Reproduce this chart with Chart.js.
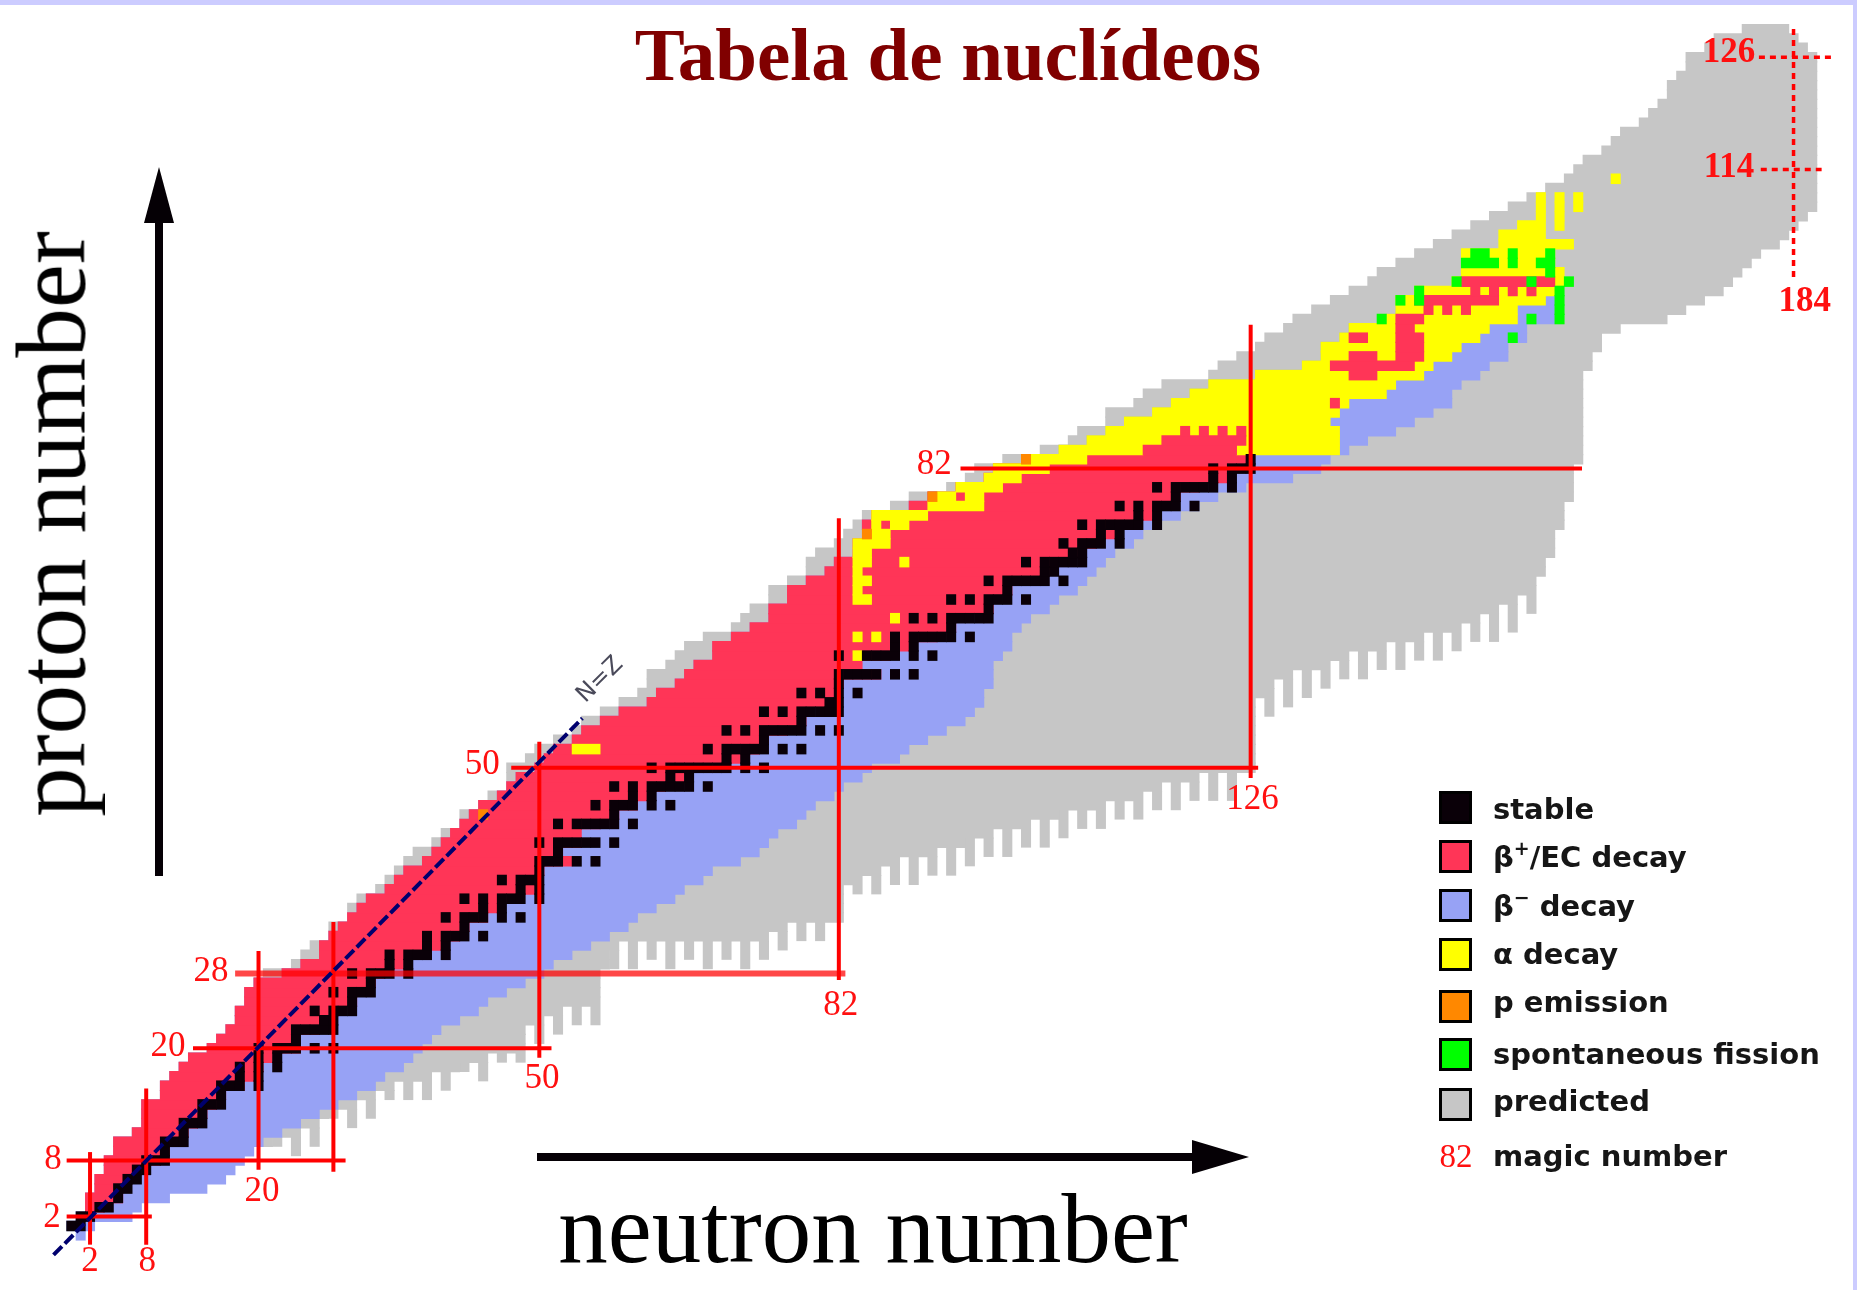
<!DOCTYPE html>
<html>
<head>
<meta charset="utf-8">
<title>Tabela de nuclídeos</title>
<script src="https://cdn.jsdelivr.net/npm/chart.js@4/dist/chart.umd.min.js"></script>
<style>
  html, body { margin: 0; padding: 0; background: #fff; }
  #wrap { position: relative; width: 1857px; height: 1290px; overflow: hidden; background: #fff; }
  #chart { position: absolute; left: 0; top: 0; }
  .frame-top { position: absolute; left: 0; top: 0; width: 1857px; height: 5px; background: #ccccff; }
  .frame-right { position: absolute; right: 0; top: 0; width: 4px; height: 1290px; background: #ccccff; }
  #title { position: absolute; left: 948px; top: 17px; transform: translateX(-50%); white-space: nowrap;
    font: bold 75px "Liberation Serif", serif; line-height: 1; color: #800000; }
  .axis { position: absolute; white-space: nowrap; font: 99px "Liberation Serif", serif; line-height: 1; color: #000; }
  #ylab { left: 51px; top: 524px; transform: translate(-50%, -50%) rotate(-90deg); }
  #xlab { left: 873px; top: 1179px; transform: translateX(-50%); }
  .lg-box { position: absolute; left: 1439px; width: 33px; height: 33px; box-sizing: border-box; border: 3px solid #000; }
  .lg-txt { position: absolute; left: 1493px; white-space: nowrap; font: bold 29px "DejaVu Sans", sans-serif; line-height: 1; color: #161616; }
  .lg-txt sup { font-size: 19px; vertical-align: 12px; line-height: 0; }
  .lg-magic { position: absolute; left: 1456px; transform: translateX(-50%); font: 33px "Liberation Serif", serif; line-height: 1; color: #ff1010; }
</style>
</head>
<body>
<div id="wrap">
  <canvas id="chart" width="1857" height="1290"></canvas>
  <div class="frame-top"></div>
  <div class="frame-right"></div>
  <div id="title">Tabela de nuclídeos</div>
  <div class="axis" id="ylab">proton number</div>
  <div class="axis" id="xlab">neutron number</div>

  <div class="lg-box" style="top:791px;background:#0a0008"></div>
  <div class="lg-txt" style="top:795px">stable</div>
  <div class="lg-box" style="top:840px;background:#ff3557"></div>
  <div class="lg-txt" style="top:843px">β<sup>+</sup>/EC decay</div>
  <div class="lg-box" style="top:889px;background:#97a2f5"></div>
  <div class="lg-txt" style="top:892px">β<sup>−</sup> decay</div>
  <div class="lg-box" style="top:938px;background:#ffff00"></div>
  <div class="lg-txt" style="top:940px">α decay</div>
  <div class="lg-box" style="top:990px;background:#ff8800"></div>
  <div class="lg-txt" style="top:988px">p emission</div>
  <div class="lg-box" style="top:1038px;background:#00ff00"></div>
  <div class="lg-txt" style="top:1040px">spontaneous fission</div>
  <div class="lg-box" style="top:1088px;background:#c6c6c6"></div>
  <div class="lg-txt" style="top:1087px">predicted</div>
  <div class="lg-magic" style="top:1140px">82</div>
  <div class="lg-txt" style="top:1142px">magic number</div>
</div>

<script>
// Rows are indexed by proton number Z (0..130); values are neutron numbers N.

// first known nuclide (proton-rich edge)
const knownLo = [
  1, 0, 1, 2, 2, 3, 3, 4, 4, 5,
  5, 7, 8, 8, 8, 10, 10, 11, 12, 13,
  15, 16, 17, 18, 18, 19, 19, 20, 23, 25,
  27, 27, 28, 29, 30, 31, 32, 34, 35, 36,
  38, 39, 40, 41, 42, 43, 44, 46, 47, 48,
  50, 51, 52, 54, 55, 57, 59, 62, 63, 65,
  66, 67, 69, 69, 71, 73, 75, 75, 77, 77,
  79, 81, 82, 84, 84, 86, 85, 86, 90, 92,
  95, 98, 99, 102, 106, 109, 111, 113, 116, 118,
  120, 122, 127, 132, 134, 134, 136, 137, 141, 142,
  142, 144, 148, 149, 149, 149, 153, 153, 155, 157,
  157, 157, null, 165, null, null, null, null, null, null,
  null, null, null, null, null, null, null, null, null, null, null
];

// last beta+/EC nuclide of the row
const ecHi = [
  null, null, null, 3, 5, 5, 6, 7, 9, 10,
  11, 12, 13, 14, 15, 16, 18, 19, 20, 21,
  24, 24, 26, 27, 28, 30, 30, 32, 33, 35,
  37, 39, 41, 42, 44, 45, 46, 49, 48, 50,
  53, 52, 54, 54, 56, 58, 60, 61, 63, 65,
  68, 71, 73, 74, 76, 78, 78, 81, 81, 82,
  86, 84, 87, 89, 92, 94, 94, 98, 98, 100,
  102, 104, 105, 107, 109, 111, 112, 115, 116, 118,
  120, 123, 124, 125
];

// last beta- nuclide (neutron-rich edge of known nuclides)
const betaMinusHi = [
  1, 2, 6, 7, 10, 14, 16, 17, 18, 19,
  20, 22, 24, 26, 28, 30, 32, 33, 35, 36,
  37, 38, 39, 41, 43, 44, 46, 48, 50, 51,
  53, 55, 57, 59, 60, 62, 64, 65, 67, 68,
  71, 73, 74, 75, 77, 78, 79, 81, 82, 84,
  85, 88, 89, 91, 93, 95, 96, 97, 97, 98,
  98, 98, 99, 100, 100, 101, 102, 104, 105, 107,
  108, 109, 110, 111, 113, 114, 116, 118, 120, 122,
  125, 130, 133, 134, 136, 138, 141, 143, 145, 147,
  147, 148, 150, 151, 153, 153, 155, 155, 158, 158,
  158
];

// predicted nuclides (grey band, solid part)
const predLo = [
  null, null, null, null, null, null, null, null, null, null,
  5, 7, 8, 8, 8, 10, 10, 11, 12, 13,
  15, 16, 17, 18, 18, 19, 19, 20, 21, 24,
  25, 26, 28, 28, 30, 30, 31, 33, 34, 35,
  36, 37, 39, 40, 42, 42, 44, 45, 47, 47,
  47, 49, 50, 52, 54, 55, 57, 59, 61, 62,
  62, 64, 65, 66, 68, 71, 72, 73, 75, 75,
  77, 79, 79, 80, 82, 83, 84, 85, 88, 90,
  94, 96, 97, 100, 104, 107, 108, 111, 111, 114,
  115, 117, 122, 123, 125, 127, 128, 130, 131, 133,
  135, 137, 139, 140, 142, 144, 146, 148, 150, 152,
  154, 156, 158, 160, 161, 162, 164, 165, 166, 168,
  169, 170, 171, 171, 172, 173, 173, 175, 176, 179, null
];
const predHi = [
  null, null, null, null, null, null, null, null, null, null,
  21, 24, 26, 27, 30, 32, 34, 38, 41, 44,
  47, 48, 48, 50, 52, 55, 56, 56, 56, 57,
  57, 58, 74, 76, 82, 82, 82, 82, 83, 86,
  88, 92, 95, 98, 102, 105, 109, 113, 116, 120,
  126, 126, 126, 126, 126, 126, 126, 126, 127, 128,
  130, 133, 136, 140, 144, 147, 150, 152, 154, 155,
  156, 157, 157, 158, 158, 158, 159, 159, 159, 160,
  160, 160, 160, 161, 161, 161, 161, 161, 161, 161,
  161, 161, 161, 162, 162, 163, 163, 165, 170, 172,
  174, 176, 177, 178, 179, 180, 182, 183, 184, 185,
  186, 186, 186, 186, 186, 186, 186, 186, 186, 186,
  186, 186, 186, 186, 186, 186, 186, 185, 184, 183, null
];
// comb teeth hanging below the predicted band: [N, Zfrom, Zto]
const predTeeth = [
  [22, 10, 10], [24, 9, 10], [26, 10, 11], [28, 13, 13], [30, 12, 13], [32, 13, 14], [34, 15, 15],
  [36, 15, 16], [38, 15, 16], [40, 16, 17], [42, 18, 18], [44, 17, 18], [46, 19, 19], [48, 19, 20],
  [50, 21, 22], [52, 22, 23], [54, 23, 24], [56, 23, 25], [58, 29, 30], [60, 29, 31], [62, 30, 31],
  [64, 29, 31], [66, 30, 31], [68, 29, 31], [70, 30, 31], [72, 29, 31], [74, 30, 31], [76, 31, 32],
  [78, 32, 33], [80, 32, 33], [84, 37, 38], [86, 37, 38], [88, 38, 39], [90, 38, 40], [92, 39, 40],
  [94, 39, 41], [96, 40, 42], [98, 41, 42], [100, 41, 43], [102, 42, 43], [104, 42, 44], [106, 43, 45],
  [108, 44, 45], [110, 44, 46], [112, 45, 46], [114, 45, 47], [116, 46, 47], [118, 46, 48], [120, 47, 48],
  [122, 47, 49], [124, 47, 49], [128, 56, 58], [130, 57, 59], [132, 58, 60], [134, 59, 61], [136, 60, 61],
  [138, 60, 62], [140, 61, 62], [142, 61, 63], [144, 62, 63], [146, 62, 64], [148, 63, 65], [150, 64, 65],
  [152, 64, 66], [154, 65, 67], [156, 67, 69]
];

// stable nuclides: neutron numbers for each Z
const stableN = [
  [], [0, 1], [1, 2], [3, 4], [5], [5, 6], [6, 7], [7, 8], [8, 9, 10], [10],
  [10, 11, 12], [12], [12, 13, 14], [14], [14, 15, 16], [16], [16, 17, 18, 20], [18, 20], [18, 20, 22], [20, 22],
  [20, 22, 23, 24, 26, 28], [24], [24, 25, 26, 27, 28], [27, 28], [26, 28, 29, 30], [30], [28, 30, 31, 32], [32], [30, 32, 33, 34, 36], [34, 36],
  [34, 36, 37, 38, 40], [38, 40], [38, 40, 41, 42, 44], [42], [40, 42, 43, 44, 46, 48], [44, 46], [42, 44, 46, 47, 48, 50], [48, 50], [46, 48, 49, 50], [50],
  [50, 51, 52, 54, 56], [52], [50, 52, 53, 54, 55, 56, 58], [], [52, 54, 55, 56, 57, 58, 60], [58], [56, 58, 59, 60, 62, 64], [60, 62], [58, 60, 62, 63, 64, 65, 66, 68], [64, 66],
  [62, 64, 65, 66, 67, 68, 69, 70, 72, 74], [70, 72], [68, 70, 71, 72, 73, 74, 76, 78], [74], [70, 72, 74, 75, 76, 77, 78, 80, 82], [78], [74, 76, 78, 79, 80, 81, 82], [81, 82], [78, 80, 82, 84], [82],
  [82, 83, 84, 85, 86, 88, 90], [], [82, 85, 86, 87, 88, 90, 92], [88, 90], [88, 90, 91, 92, 93, 94, 96], [94], [90, 92, 94, 95, 96, 97, 98], [98], [94, 96, 98, 99, 100, 102], [100],
  [98, 100, 101, 102, 103, 104, 106], [104, 105], [102, 104, 105, 106, 107, 108], [107, 108], [106, 108, 109, 110, 112], [110, 112], [108, 110, 111, 112, 113, 114, 116], [114, 116], [112, 114, 116, 117, 118, 120], [118],
  [116, 118, 119, 120, 121, 122, 124], [122, 124], [122, 124, 125, 126], [126]
];

// runs [Z, Nfrom, Nto]
const alphaRuns = [
  [52, 54, 56], [62, 84, 84], [64, 84, 84], [64, 86, 86], [66, 88, 88],
  [68, 84, 85], [69, 84, 84], [70, 84, 85], [71, 84, 84], [72, 84, 85], [72, 89, 89], [73, 84, 85], [74, 84, 87],
  [75, 86, 87], [76, 86, 86], [76, 88, 89], [77, 86, 91], [78, 92, 97], [79, 93, 94], [79, 96, 97],
  [80, 95, 99], [81, 98, 101], [82, 99, 104], [83, 103, 108],
  [84, 106, 114], [84, 125, 135], [85, 109, 116], [85, 126, 135], [86, 111, 135], [87, 113, 134], [88, 116, 135],
  [89, 118, 136], [90, 120, 140], [91, 122, 141], [92, 127, 144], [93, 132, 145], [94, 134, 147], [95, 134, 148],
  [96, 136, 150], [97, 137, 151], [98, 141, 154], [99, 142, 154], [100, 142, 157], [101, 144, 158], [102, 148, 159],
  [103, 149, 159], [104, 149, 158], [105, 149, 158], [106, 153, 160], [107, 153, 157], [108, 155, 157], [108, 159, 159],
  [109, 157, 157], [109, 159, 159], [110, 157, 157], [110, 159, 159], [110, 161, 161], [111, 157, 157], [111, 159, 159],
  [111, 161, 161], [113, 165, 165]
];
const ecIslands = [
  [84, 115, 124], [85, 117, 125], [86, 119, 119], [86, 121, 121], [86, 123, 123], [86, 125, 125],
  [89, 135, 135], [92, 137, 139], [93, 135, 143], [94, 137, 139], [94, 142, 144], [95, 142, 144],
  [96, 137, 138], [96, 142, 144], [97, 142, 143], [98, 142, 144],
  [99, 145, 145], [99, 147, 147], [99, 149, 149], [100, 144, 152],
  [101, 150, 150], [101, 152, 152], [101, 154, 154], [101, 156, 156], [102, 149, 158]
];
const pEmissionRuns = [[45, 44, 44], [75, 85, 85], [79, 92, 92], [83, 102, 102]];
const fissionRuns = [
  [96, 154, 154], [98, 140, 140], [98, 156, 156], [98, 159, 159], [99, 159, 159],
  [100, 142, 142], [100, 144, 144], [100, 159, 159], [101, 144, 144], [101, 159, 159],
  [102, 148, 148], [102, 156, 156], [102, 160, 160], [103, 158, 158],
  [104, 149, 152], [104, 154, 154], [104, 157, 158], [105, 150, 151], [105, 154, 154], [105, 158, 158]
];

// magic number lines [N1, Z1, N2, Z2]
const magicLines = [
  [-0.5, 2, 8.6, 2], [2, -1, 2, 8.9], [8, -1, 8, 15.7], [-0.5, 8, 29.3, 8],
  [20, 7, 20, 30.4], [28, 6.8, 28, 33.5], [13, 20, 51.3, 20],
  [50, 19, 50, 52.8], [47, 50, 126.8, 50], [82, 27.3, 82, 76.7],
  [95, 82, 161.4, 82], [126, 48.9, 126, 97.4]
];
const magicLine28 = [17.5, 28, 82.7, 28];
const predictedMagicLines = [[184, 102.5, 184, 129.3], [180.3, 126, 188.2, 126], [180.5, 114, 187, 114]];
const nzLine = [-1.9, -2.1, 54.6, 55.3];

// labels [text, N, Z, bold]
const magicLabels = [
  ['2', -2.06, 1.85], ['2', 2.0, -2.86], ['8', 8.1, -2.86], ['8', -1.96, 8.05],
  ['20', 20.37, 4.63], ['20', 10.33, 20.2], ['28', 14.93, 28.16],
  ['50', 50.3, 16.7], ['50', 43.9, 50.3], ['82', 82.2, 24.5], ['82', 92.2, 82.4],
  ['126', 126.2, 46.6], ['126', 177.1, 126.5, true], ['114', 177.1, 114.2, true], ['184', 185.2, 99.8, true]
];

const COLORS = {
  stable: '#0a0008', ec: '#ff3557', betaMinus: '#97a2f5', alpha: '#ffff00',
  pEmission: '#ff8800', fission: '#00ff00', predicted: '#c6c6c6', magic: '#ff0000', nz: '#00006e'
};

function rowBars(lo, hi) {
  const out = [];
  for (let z = 0; z < lo.length; z++) {
    if (lo[z] == null || hi[z] == null || hi[z] < lo[z]) continue;
    out.push({ y: z, x: [lo[z] - 0.5, hi[z] + 0.5] });
  }
  return out;
}

function runBars(runs) {
  return runs.map(r => ({ y: r[0], x: [r[1] - 0.5, r[2] + 0.5] }));
}

function columnBars(runs) {
  return runs.map(r => ({ x: r[0], y: [r[1] - 0.5, r[2] + 0.5] }));
}

function stableBars() {
  const out = [];
  stableN.forEach((list, z) => list.forEach(n => out.push({ y: z, x: [n - 0.5, n + 0.5] })));
  return out;
}

function barSet(label, data, color, order) {
  return {
    type: 'bar', label, data, order,
    backgroundColor: color, borderWidth: 0, borderSkipped: false,
    grouped: false, barThickness: 9.9
  };
}

function lineSet(seg, color, width, dash, order) {
  return {
    type: 'line', data: [{ x: seg[0], y: seg[1] }, { x: seg[2], y: seg[3] }], order,
    borderColor: color, borderWidth: width, borderDash: dash || [], pointRadius: 0,
    borderCapStyle: 'butt', fill: false, tension: 0
  };
}

const teethSet = barSet('predicted teeth', columnBars(predTeeth), COLORS.predicted, 21);
teethSet.indexAxis = 'x';
teethSet.barThickness = 9.4;

const datasets = [
  teethSet,
  barSet('predicted', rowBars(predLo, predHi), COLORS.predicted, 20),
  barSet('beta-', rowBars(knownLo, betaMinusHi), COLORS.betaMinus, 19),
  barSet('beta+/EC', rowBars(knownLo, ecHi), COLORS.ec, 18),
  barSet('alpha', runBars(alphaRuns), COLORS.alpha, 17),
  barSet('beta+/EC islands', runBars(ecIslands), COLORS.ec, 16),
  barSet('p emission', runBars(pEmissionRuns), COLORS.pEmission, 15),
  barSet('fission', runBars(fissionRuns), COLORS.fission, 14),
  barSet('stable', stableBars(), COLORS.stable, 13),
  lineSet(magicLine28, 'rgba(255,0,0,0.72)', 6, null, 6),
  lineSet(nzLine, COLORS.nz, 4, [12, 4], 3)
];
magicLines.forEach(seg => datasets.push(lineSet(seg, COLORS.magic, 4, null, 5)));
predictedMagicLines.forEach(seg => datasets.push(lineSet(seg, COLORS.magic, 3.5, [6, 5], 5)));

const overlay = {
  id: 'overlay',
  afterDatasetsDraw(chart) {
    const { ctx } = chart;
    const x = chart.scales.x, y = chart.scales.y;
    ctx.save();
    ctx.textAlign = 'center';
    ctx.textBaseline = 'middle';
    ctx.fillStyle = '#ff1010';
    magicLabels.forEach(([t, n, z, bold]) => {
      ctx.font = (bold ? 'bold ' : '') + '35px "Liberation Serif"';
      ctx.fillText(t, x.getPixelForValue(n), y.getPixelForValue(z));
    });

    // N=Z tag along the diagonal
    ctx.save();
    ctx.translate(x.getPixelForValue(56.5), y.getPixelForValue(59.4));
    ctx.rotate(-Math.PI / 4);
    ctx.font = '24px "DejaVu Sans"';
    ctx.fillStyle = '#4a4a5a';
    ctx.fillText('N=Z', 0, 0);
    ctx.restore();

    // axis arrows
    ctx.fillStyle = '#050005';
    ctx.fillRect(155, 220, 8, 656);
    ctx.beginPath();
    ctx.moveTo(159, 167); ctx.lineTo(174, 223); ctx.lineTo(144, 223); ctx.closePath();
    ctx.fill();
    ctx.fillRect(537, 1153, 660, 8);
    ctx.beginPath();
    ctx.moveTo(1249, 1157); ctx.lineTo(1192, 1140); ctx.lineTo(1192, 1174); ctx.closePath();
    ctx.fill();
    ctx.restore();
  }
};

new Chart(document.getElementById('chart'), {
  type: 'bar',
  data: { datasets },
  options: {
    indexAxis: 'y',
    responsive: false,
    animation: false,
    events: [],
    layout: { padding: 0 },
    scales: {
      x: { type: 'linear', min: -7.62, max: 190.78, display: false, offset: false },
      y: { type: 'linear', min: -5.85, max: 132.12, display: false, offset: false }
    },
    plugins: { legend: { display: false }, tooltip: { enabled: false }, title: { display: false } }
  },
  plugins: [overlay]
});
</script>
</body>
</html>
